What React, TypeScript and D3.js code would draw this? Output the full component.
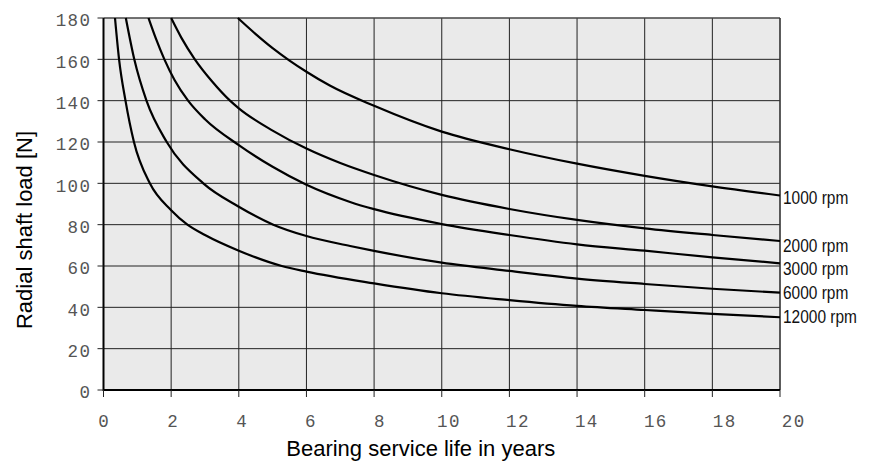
import React from "react";
import * as d3 from "d3";

// bearing life curves: [years, load N]
const rpm1000 = [[3.97, 180], [4.5, 172.2], [5, 165.4], [5.5, 159.4], [6, 154], [6.69, 147.3], [8, 137.5], [10, 125], [12, 116.5], [14, 109.5], [16, 103.6], [18, 98.5], [20, 94.1]];
const rpm2000 = [[2, 180], [2.3, 170.5], [2.7, 160], [3.2, 149.5], [3.74, 140], [4, 136.3], [5, 125.5], [6, 116.8], [7, 109.8], [8, 104], [10, 94.4], [12, 87.6], [14, 82.3], [16, 78.2], [18, 75], [20, 72.1]];
const rpm3000 = [[1.33, 180], [1.55, 170], [1.8, 160], [2.1, 150], [2.5, 140], [3, 131], [4, 118.5], [5, 108], [6, 99.3], [7.29, 91], [8, 87.5], [10, 80.3], [12, 75], [14, 70.5], [16, 67.4], [18, 64.2], [20, 61.3]];
const rpm6000 = [[0.66, 180], [0.91, 160], [1.27, 140], [1.87, 120], [2.95, 100], [4, 88.7], [5.02, 80], [6, 74.5], [7.29, 69.7], [8, 67.3], [10, 61.6], [12, 57.6], [14, 53.9], [16, 51.3], [18, 49], [20, 47.1]];
const rpm12000 = [[0.34, 180], [0.46, 160], [0.65, 140], [0.9, 120], [1.37, 100], [2, 87], [2.48, 80], [3, 75], [4, 67.4], [5.27, 60], [6, 57.3], [8, 51.6], [10, 46.8], [12, 43.5], [14, 40.7], [16, 38.7], [18, 36.8], [20, 35.2]];

const seriesNames = ["1000 rpm", "2000 rpm", "3000 rpm", "6000 rpm", "12000 rpm"];
const seriesData = [rpm1000, rpm2000, rpm3000, rpm6000, rpm12000];

const xTicks = [0, 2, 4, 6, 8, 10, 12, 14, 16, 18, 20];
const yTicks = [0, 20, 40, 60, 80, 100, 120, 140, 160, 180];

const xTitle = "Bearing service life in years";
const yTitle = "Radial shaft load [N]";

// small nudges so the end labels don't collide
const labelNudge = [2, 5, 5.5, 0, -0.5];

const W = 871;
const H = 466;

export default function App() {
  const x = d3.scaleLinear().domain([0, 20]).range([103.5, 780]);
  const y = d3.scaleLinear().domain([0, 180]).range([390, 18]);
  // the tick numbers in the original drift right of their ticks a little
  const xLab = d3.scaleLinear().domain([0, 20]).range([103.5, 793]);

  const line = d3
    .line<number[]>()
    .x((d) => x(d[0]))
    .y((d) => y(d[1]))
    .curve(d3.curveMonotoneX);

  const tickFont = "'Liberation Mono', 'Courier New', monospace";
  const sans = "'Liberation Sans', Arial, sans-serif";
  const ls = 1.4;

  return (
    <svg width={W} height={H} style={{ position: "absolute", left: 0, top: 0, background: "#fff" }}>
      <rect x={x(0)} y={y(180)} width={x(20) - x(0)} height={y(0) - y(180)} fill="#eaeaea" />

      {/* grid */}
      {xTicks.slice(1, -1).map((t) => (
        <line key={"gx" + t} x1={x(t)} x2={x(t)} y1={y(0)} y2={y(180)} stroke="#222" strokeWidth={1} />
      ))}
      {yTicks.slice(1, -1).map((t) => (
        <line key={"gy" + t} x1={x(0)} x2={x(20)} y1={y(t)} y2={y(t)} stroke="#222" strokeWidth={1} />
      ))}

      {/* frame */}
      <line x1={x(0)} x2={x(20)} y1={y(180)} y2={y(180)} stroke="#444" strokeWidth={1.6} />
      <line x1={x(20)} x2={x(20)} y1={y(0)} y2={y(180)} stroke="#333" strokeWidth={1.6} />
      <line x1={x(0)} x2={x(0)} y1={y(0) + 1} y2={y(180)} stroke="#000" strokeWidth={2} />
      <line x1={x(0)} x2={x(20)} y1={y(0)} y2={y(0)} stroke="#000" strokeWidth={2} />

      {/* curves */}
      {seriesData.map((s, i) => (
        <path key={seriesNames[i]} d={line(s) || ""} fill="none" stroke="#000" strokeWidth={2.2} />
      ))}

      {/* y axis */}
      {yTicks.map((t) => (
        <g key={"ty" + t}>
          <line x1={x(0) - 6} x2={x(0)} y1={y(t)} y2={y(t)} stroke="#222" strokeWidth={1} />
          <text x={90 + ls} y={y(t) + 2} dy="0.36em" textAnchor="end" fontFamily={tickFont} fontSize={17.5} letterSpacing={ls} fill="#555">
            {t}
          </text>
        </g>
      ))}

      {/* x axis */}
      {xTicks.map((t) => (
        <g key={"tx" + t}>
          <line x1={x(t)} x2={x(t)} y1={y(0)} y2={y(0) + 7} stroke="#222" strokeWidth={1} />
          <text x={xLab(t) + ls / 2} y={427} textAnchor="middle" fontFamily={tickFont} fontSize={17.5} letterSpacing={ls} fill="#555">
            {t}
          </text>
        </g>
      ))}

      {/* end labels */}
      {seriesData.map((s, i) => {
        const ly = y(s[s.length - 1][1]) + labelNudge[i];
        return (
          <text
            key={"lab" + i}
            transform={`translate(${x(20) + 3}, ${ly}) scale(0.86, 1)`}
            dy="0.36em"
            fontFamily={sans}
            fontSize={18}
            fill="#111"
          >
            {seriesNames[i]}
          </text>
        );
      })}

      <text x={(x(0) + x(20)) / 2 - 21} y={456} textAnchor="middle" fontFamily={sans} fontSize={22} fill="#000">
        {xTitle}
      </text>
      <text
        transform={`translate(32, ${(y(0) + y(180)) / 2 + 26}) rotate(-90)`}
        textAnchor="middle"
        fontFamily={sans}
        fontSize={22}
        fill="#000"
      >
        {yTitle}
      </text>
    </svg>
  );
}
